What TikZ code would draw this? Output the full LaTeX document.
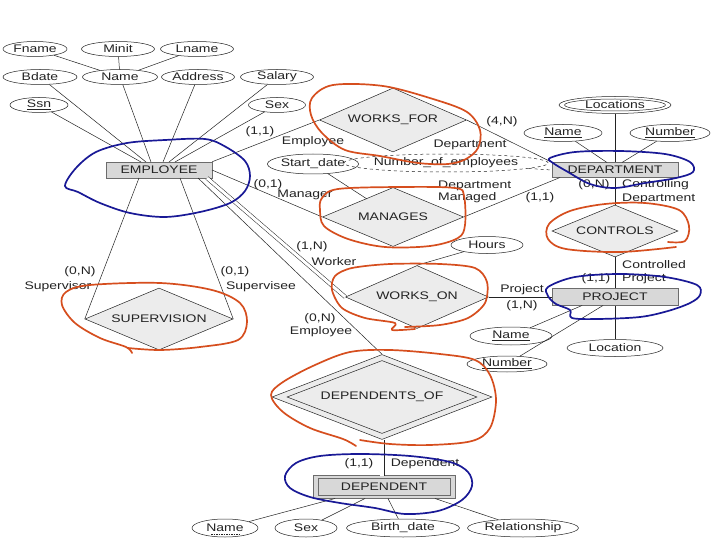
\documentclass[tikz,border=0pt]{standalone}
\usepackage{fontspec}
\setmainfont{Liberation Sans}[FakeStretch=1.27]
\usetikzlibrary{shapes.geometric,calc}
\definecolor{penred}{RGB}{214,78,30}
\definecolor{penblue}{RGB}{25,25,150}
\definecolor{entfill}{RGB}{216,216,216}
\definecolor{relfill}{RGB}{236,236,236}
\definecolor{ink}{RGB}{35,35,35}
\begin{document}
\begin{tikzpicture}[x=1pt,y=-1pt,font=\fontsize{11}{12}\selectfont,text=ink,
  attr/.style={draw=ink,ellipse,inner sep=0,line width=0.5pt},
  entbox/.style={draw=gray!85!black,fill=entfill,rectangle,inner sep=0,line width=0.6pt},
  relbox/.style={draw=ink,fill=relfill,diamond,inner sep=0,line width=0.5pt},
  conn/.style={draw=ink,line width=0.5pt},
  lbl/.style={inner sep=0},
  redpen/.style={draw=penred,line width=1.7pt,line cap=round,line join=round},
  bluepen/.style={draw=penblue,line width=1.7pt,line cap=round,line join=round}]
\useasboundingbox[fill=white] (0,0) rectangle (720,540);

% ---------- EMPLOYEE and attributes ----------
\node[entbox,minimum width=106pt,minimum height=16pt] (emp) at (159,170) {EMPLOYEE};
\node[attr,minimum width=64pt,minimum height=15pt] (fname) at (35,49) {Fname};
\node[attr,minimum width=73pt,minimum height=15pt] (minit) at (118,49) {Minit};
\node[attr,minimum width=73pt,minimum height=15pt] (lname) at (197,49) {Lname};
\node[attr,minimum width=74pt,minimum height=15pt] (bdate) at (40,77) {Bdate};
\node[attr,minimum width=75pt,minimum height=15pt] (ename) at (120,77) {Name};
\node[attr,minimum width=73pt,minimum height=15pt] (addr) at (198,77) {Address};
\node[attr,minimum width=73pt,minimum height=15pt] (sal) at (277,77) {Salary};
\node[attr,minimum width=58pt,minimum height=15pt] (ssn) at (39,105) {\underline{Ssn}};
\node[attr,minimum width=57pt,minimum height=15pt] (esex) at (277,105) {Sex};

\coordinate (e1) at (141,162);
\coordinate (e2) at (146,162);
\coordinate (e3) at (151,162);
\coordinate (e4) at (163,162);
\coordinate (e5) at (169,162);
\coordinate (e6) at (175,162);
\draw[conn] (fname) -- (ename);
\draw[conn] (lname) -- (ename);
\draw[conn] (minit) -- (ename);
\draw[conn] (ssn) -- (e1);
\draw[conn] (bdate) -- (e2);
\draw[conn] (ename) -- (e3);
\draw[conn] (addr) -- (e4);
\draw[conn] (sal) -- (e5);
\draw[conn] (esex) -- (e6);

% ---------- relationships ----------
\node[relbox,aspect=2.3,minimum width=147pt,minimum height=64pt] (wf) at (393,120) {WORKS\_FOR};
\node[relbox,aspect=2.4,minimum width=141pt,minimum height=59pt] (man) at (393,217) {MANAGES};
\node[relbox,aspect=2.4,minimum width=126pt,minimum height=52pt] (ctl) at (615,231) {CONTROLS};
\node[relbox,aspect=2.27,minimum width=143pt,minimum height=63pt] (wo) at (417,297) {WORKS\_ON};
\node[relbox,aspect=2.4,minimum width=148pt,minimum height=62pt] (sup) at (159,319) {SUPERVISION};
\node[relbox,aspect=2.6,minimum width=220pt,minimum height=85pt] (dof) at (382,397) {DEPENDENTS\_OF};
\node[draw=ink,diamond,aspect=2.6,inner sep=0,line width=0.5pt,minimum width=190pt,minimum height=73pt] (dofin) at (dof.center) {};

% ---------- DEPARTMENT ----------
\node[entbox,minimum width=126pt,minimum height=15pt] (dept) at (615,170) {DEPARTMENT};
\node[attr,minimum width=112pt,minimum height=17pt] (locs) at (615,105) {};
\node[attr,minimum width=101pt,minimum height=12pt] (locsin) at (locs.center) {Locations};
\node[attr,minimum width=78pt,minimum height=17pt] (dname) at (563,133) {\underline{Name}};
\node[attr,minimum width=80pt,minimum height=17pt] (dnum) at (670,133) {\underline{Number}};
\node[attr,dashed,minimum width=168pt,minimum height=18pt] (noe) at (446,163) {Number\_of\_employees};
\node[attr,minimum width=80pt,minimum height=20pt] (sd) at (313,164) {Start\_date};
\coordinate (d1) at (607,162.5);
\coordinate (d2) at (622,162.5);
\coordinate (d3) at (560,177.5);
\coordinate (sdm) at (367,199);
\draw[conn] (locs) -- (dept.north);
\draw[conn] (dname) -- (d1);
\draw[conn] (dnum) -- (d2);
\draw[conn,dashed] (noe) -- (dept.west);
\draw[conn] (sd) -- (sdm);

% ---------- PROJECT ----------
\node[entbox,minimum width=126pt,minimum height=17pt] (proj) at (615,297) {PROJECT};
\node[attr,minimum width=72pt,minimum height=17pt] (hours) at (487,245) {Hours};
\node[attr,minimum width=82pt,minimum height=18pt] (pname) at (511,336) {\underline{Name}};
\node[attr,minimum width=80pt,minimum height=16pt] (pnum) at (507,364) {\underline{Number}};
\node[attr,minimum width=96pt,minimum height=17pt] (ploc) at (615,348) {Location};
\coordinate (p1) at (582,305.5);
\coordinate (p2) at (603,305.5);
\draw[conn] (pname) -- (p1);
\draw[conn] (pnum) -- (p2);
\draw[conn] (proj.south) -- (ploc);
\draw[conn] (hours) -- (wo.north);

% ---------- DEPENDENT ----------
\node[entbox,minimum width=142pt,minimum height=23pt] (dep) at (384,487) {};
\node[draw=gray!85!black,rectangle,inner sep=0,line width=0.6pt,minimum width=132pt,minimum height=17pt] (depin) at (dep.center) {DEPENDENT};
\node[attr,minimum width=66pt,minimum height=18pt] (dpn) at (225,528) {Name};
\node[attr,minimum width=62pt,minimum height=18pt] (dsex) at (306,528) {Sex};
\node[attr,minimum width=113pt,minimum height=18pt] (bd) at (403,528) {Birth\_date};
\node[attr,minimum width=111pt,minimum height=18pt] (drel) at (523,528) {Relationship};
\draw[conn,dash pattern=on 1.5pt off 1pt] ($(dpn.center)+(-14,6)$) -- ($(dpn.center)+(14,6)$);
\coordinate (q1) at (335,498.5);
\coordinate (q2) at (365,498.5);
\coordinate (q3) at (388,498.5);
\coordinate (q4) at (435,498.5);
\draw[conn] (dpn) -- (q1);
\draw[conn] (dsex) -- (q2);
\draw[conn] (bd) -- (q3);
\draw[conn] (drel) -- (q4);

% ---------- connectors between entities and relationships ----------
\coordinate (eman) at (212,170);
\coordinate (ewo) at (207,178);
\coordinate (edo) at (198,178);
\coordinate (es1) at (139,178);
\coordinate (es2) at (180,178);
\coordinate (depn) at (382,475.5);
\draw[conn] (emp.north east) -- (wf.west);
\draw[conn] (wf.east) -- (dept.north west);
\draw[conn] (eman) -- (man.west);
\draw[conn] (man.east) -- (d3);
\draw[conn] (dept.south) -- (ctl.north);
\draw[conn] (ctl.south) -- (proj.north);
\draw[conn] (wo.east) -- (proj.west);
\draw[conn,double=white,double distance=3pt] (ewo) -- (wo.west);
\draw[conn] (edo) -- (dof.north);
\draw[conn] (es1) -- (sup.west);
\draw[conn] (es2) -- (sup.east);
\draw[conn,double=white,double distance=4pt] (dof.south) -- (depn);

% ---------- role and cardinality labels ----------
\node[lbl] (l1) at (260,132) {(1,1)};
\node[lbl] (l2) at (313,142) {Employee};
\node[lbl] (l3) at (502,122) {(4,N)};
\node[lbl] (l4) at (470,145) {Department};
\node[lbl] (l5) at (268,185) {(0,1)};
\node[lbl] (l6) at (305,195) {Manager};
\node[lbl,anchor=west] (l7) at (438,186) {Department};
\node[lbl,anchor=west] (l8) at (438,198) {Managed};
\node[lbl] (l9) at (540,198) {(1,1)};
\node[lbl] (l10) at (594,185) {(0,N)};
\node[lbl,anchor=west] (l11) at (622,185) {Controlling};
\node[lbl,anchor=west] (l12) at (622,199) {Department};
\node[lbl,anchor=west] (l13) at (622,265) {Controlled};
\node[lbl] (l14) at (596,279) {(1,1)};
\node[lbl,anchor=west] (l15) at (622,279) {Project};
\node[lbl] (l16) at (522,290) {Project};
\node[lbl] (l17) at (522,306) {(1,N)};
\node[lbl] (l18) at (312,247) {(1,N)};
\node[lbl] (l19) at (334,262) {Worker};
\node[lbl] (l20) at (320,319) {(0,N)};
\node[lbl] (l21) at (321,332) {Employee};
\node[lbl] (l22) at (80,272) {(0,N)};
\node[lbl] (l23) at (58,287) {Supervisor};
\node[lbl] (l24) at (235,272) {(0,1)};
\node[lbl] (l25) at (261,287) {Supervisee};
\node[lbl] (l26) at (359,464) {(1,1)};
\node[lbl] (l27) at (425,464) {Dependent};

% ---------- hand-drawn red marks ----------
\draw[redpen] plot[smooth cycle,tension=0.55] coordinates {(312,98) (333,85) (383,86) (433,99) (467,112) (480,130) (478,148) (466,159) (448,164) (418,163) (380,156) (345,150) (322,133) (311,115)};
\draw[redpen] plot[smooth cycle,tension=0.55] coordinates {(322,198) (338,189) (400,187) (455,188) (464,196) (465,225) (458,238) (430,246) (385,247) (348,239) (324,226) (320,210)};
\draw[redpen] plot[smooth,tension=0.55] coordinates {(668,242) (685,241) (689,226) (679,210) (645,203) (605,204) (570,211) (549,224) (548,239) (566,249) (620,252) (676,247)};
\draw[redpen] plot[smooth,tension=0.5] coordinates {(415,329) (392,330) (395,323) (365,318) (342,308) (332,290) (335,276) (352,268) (390,264) (440,264) (475,268) (487,282) (485,303) (468,318) (440,325) (405,327)};
\draw[redpen] plot[smooth,tension=0.55] coordinates {(132,353) (126,347) (100,338) (75,323) (62,305) (66,292) (90,285) (160,283) (212,290) (240,303) (247,322) (238,340) (200,347) (160,350) (128,348)};
\draw[redpen] plot[smooth,tension=0.55] coordinates {(356,446) (343,439) (310,428) (283,412) (271,395) (283,382) (315,365) (350,352) (390,350) (440,354) (475,360) (490,375) (496,400) (490,428) (472,441) (430,445) (390,444) (360,440)};

% ---------- hand-drawn blue marks ----------
\draw[bluepen] plot[smooth cycle,tension=0.55] coordinates {(65,186) (76,168) (96,152) (127,143) (165,140) (205,139) (226,147) (245,161) (250,176) (245,191) (230,203) (200,212) (165,217) (130,213) (100,203) (78,192)};
\draw[bluepen] plot[smooth cycle,tension=0.55] coordinates {(550,158) (575,152) (620,151) (665,154) (690,162) (693,172) (676,178) (645,183) (615,188) (590,184) (568,172) (553,163)};
\draw[bluepen] plot[smooth cycle,tension=0.55] coordinates {(548,287) (575,277) (620,274) (665,277) (697,285) (700,295) (690,303) (668,311) (640,317) (598,319) (572,318) (570,310) (556,304) (548,296)};
\draw[bluepen] plot[smooth cycle,tension=0.55] coordinates {(285,476) (296,463) (320,456) (360,454) (410,456) (450,462) (468,472) (472,486) (462,500) (438,511) (405,514) (375,508) (340,503) (310,497) (290,488)};
\end{tikzpicture}
\end{document}
